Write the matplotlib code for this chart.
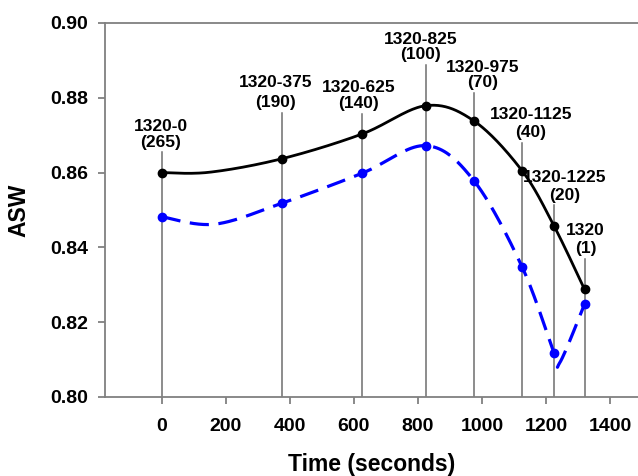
import numpy as np
import matplotlib
matplotlib.use("Agg")
import matplotlib.pyplot as plt

plt.rcParams["font.family"] = ["Liberation Sans", "DejaVu Sans"]
plt.rcParams["font.weight"] = "bold"

# 数据（带标记的点）
times = [0, 375, 625, 825, 975, 1125, 1225, 1320]
asw_black = [0.8600, 0.8637, 0.8703, 0.8779, 0.8738, 0.8605, 0.8457, 0.8288]
asw_blue = [0.8482, 0.8518, 0.8598, 0.8672, 0.8578, 0.8348, 0.8118, 0.8248]

# 平滑曲线经过的点（含图中可见但无标记的转折点）
black_curve_t = [0, 150, 375, 625, 825, 975, 1125, 1225, 1320]
black_curve_y = [0.8600, 0.8601, 0.8637, 0.8703, 0.8779, 0.8738, 0.8605, 0.8457, 0.8288]
blue_curve_t = [0, 165, 375, 625, 825, 975, 1125, 1225, 1243, 1320]
blue_curve_y = [0.8482, 0.8462, 0.8518, 0.8598, 0.8672, 0.8578, 0.8348, 0.8118, 0.8092, 0.8248]

labels = ["1320-0\n(265)", "1320-375\n(190)", "1320-625\n(140)", "1320-825\n(100)",
          "1320-975\n(70)", "1320-1125\n(40)", "1320-1225\n(20)", "1320\n(1)"]
line_tops = [0.8654, 0.8760, 0.8757, 0.8888, 0.8813, 0.8680, 0.8512, 0.8370]

# 标注微调（像素）
label_dx = [-1, -6, -3, -5, 9, 9, 11, 1]
label_spacing = [1.05, 1.45, 1.05, 1.05, 1.05, 1.2, 1.2, 1.2]

GRAY = "#808080"


def smooth(x, y, sx, sy, n=40):
    """Excel 风格的 Bezier 平滑曲线。"""
    P = np.column_stack([np.asarray(x, float) * sx, np.asarray(y, float) * sy])
    out = []
    t = np.linspace(0, 1, n)[:, None]
    for i in range(len(P) - 1):
        p0 = P[i - 1] if i > 0 else P[i]
        p1, p2 = P[i], P[i + 1]
        p3 = P[i + 2] if i + 2 < len(P) else P[i + 1]
        c1 = p1 + (p2 - p0) / 6
        c2 = p2 - (p3 - p1) / 6
        seg = (1 - t) ** 3 * p1 + 3 * (1 - t) ** 2 * t * c1 + 3 * (1 - t) * t ** 2 * c2 + t ** 3 * p2
        out.append(seg if i == 0 else seg[1:])
    out = np.vstack(out)
    return out[:, 0] / sx, out[:, 1] / sy


fig = plt.figure(figsize=(6.38, 4.76), dpi=100)
ax = fig.add_axes([0.1646, 0.166, 0.8354, 0.7857])
ax.set_xlim(-177, 1487)
ax.set_ylim(0.80, 0.90)

# 竖线
for x, top in zip(times, line_tops):
    ax.plot([x, x], [0.80, top], color="#6e6e6e", lw=1.1, zorder=1)

sx, sy = 0.3202, 3740
xb, yb = smooth(black_curve_t, black_curve_y, sx, sy)
ax.plot(xb, yb, color="black", lw=2.0, zorder=3)
ax.plot(times, asw_black, "o", color="black", ms=6, zorder=4)

xu, yu = smooth(blue_curve_t, blue_curve_y, sx, sy)
ax.plot(xu, yu, color="#0000ff", lw=2.3, dashes=(6, 3), zorder=3)
ax.plot(times, asw_blue, "o", color="#0000ff", ms=6, zorder=4)

for x, top, lab, dx, ls in zip(times, line_tops, labels, label_dx, label_spacing):
    ax.annotate(lab, (x, top), xytext=(dx * 0.72, 2), textcoords="offset points",
                ha="center", va="bottom", fontsize=12.5, fontweight="bold",
                linespacing=ls, multialignment="center")

ax.set_xticks([0, 200, 400, 600, 800, 1000, 1200, 1400])
ax.set_yticks([0.80, 0.82, 0.84, 0.86, 0.88, 0.90])
ax.set_yticklabels(["0.80", "0.82", "0.84", "0.86", "0.88", "0.90"])
ax.tick_params(axis="both", direction="out", color=GRAY, width=1.3, length=5,
               labelsize=14)
ax.tick_params(axis="x", pad=10)
ax.tick_params(axis="y", pad=7)
for lab in ax.get_xticklabels() + ax.get_yticklabels():
    lab.set_fontweight("bold")

for side in ["left", "top", "bottom"]:
    ax.spines[side].set_color(GRAY)
    ax.spines[side].set_linewidth(1.3)
ax.spines["right"].set_visible(False)

ax.set_xlabel("Time (seconds)", fontsize=16.5, fontweight="bold", labelpad=13)
ax.set_ylabel("ASW", fontsize=16.5, fontweight="bold", labelpad=14)

fig.savefig("out.png", dpi=100)
